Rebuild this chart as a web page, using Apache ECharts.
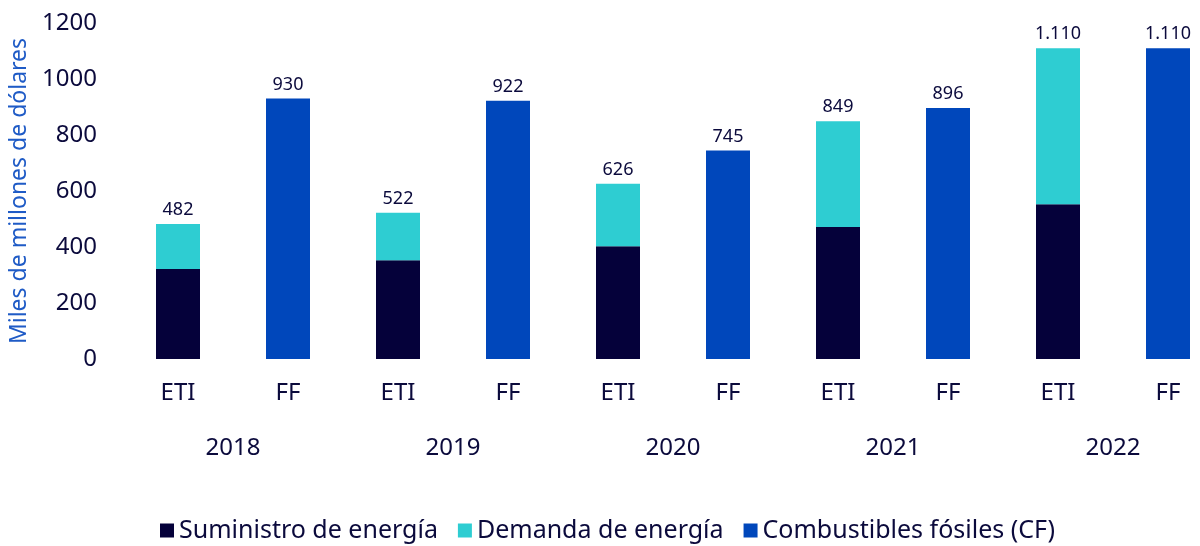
<!DOCTYPE html>
<html>
<head>
<meta charset="utf-8">
<script src="https://cdn.jsdelivr.net/npm/echarts@6/dist/echarts.min.js"></script>
<style>
  html, body { margin: 0; padding: 0; background: #fff; }
  #chart { width: 1200px; height: 546px; }
</style>
</head>
<body>
<div id="chart"></div>
<script>
  // bar categories (two per year) and the years below them
  const categories = ['ETI', 'FF', 'ETI', 'FF', 'ETI', 'FF', 'ETI', 'FF', 'ETI', 'FF']
  const years = ['2018', '2019', '2020', '2021', '2022']

  // ETI split and totals, FF values (miles de millones de dólares)
  const suministro = [321, 353, 403, 471, 553]
  const demanda = [161, 169, 223, 378, 557]
  const etiTotal = [482, 522, 626, 849, 1110]
  const combustibles = [930, 922, 745, 896, 1110]

  const yTicks = { min: 0, max: 1200, interval: 200 }

  const textColor = '#0b0a3c'
  const fontFamily = '"Noto Sans", sans-serif'

  const fmt = (v) => String(v).replace(/\B(?=(\d{3})+(?!\d))/g, '.')

  // spread year values onto the ETI / FF slots
  const onEti = (arr) => categories.map((c, i) => (c === 'ETI' ? arr[i / 2] : '-'))
  const onFf = (arr) => categories.map((c, i) => (c === 'FF' ? arr[(i - 1) / 2] : '-'))

  const chart = echarts.init(document.getElementById('chart'), null, { renderer: 'canvas' })

  const option = {
    animation: false,
    textStyle: { fontFamily: fontFamily },
    grid: {
      top: 23,
      left: 123,
      right: -23,
      bottom: 187,
      containLabel: false,
      outerBoundsMode: 'none'
    },
    legend: {
      left: 155,
      top: 513,
      itemWidth: 14,
      itemHeight: 14,
      itemGap: 20,
      icon: 'rect',
      textStyle: { color: textColor, fontSize: 25, fontFamily: fontFamily },
      data: ['Suministro de energía', 'Demanda de energía', 'Combustibles fósiles (CF)']
    },
    xAxis: [
      {
        type: 'category',
        data: categories,
        axisLine: { show: false },
        axisTick: { show: false },
        axisLabel: { color: textColor, fontSize: 24, margin: 22 }
      },
      {
        type: 'category',
        data: years,
        position: 'bottom',
        offset: 55,
        axisLine: { show: false },
        axisTick: { show: false },
        axisLabel: { color: textColor, fontSize: 24, margin: 22 }
      }
    ],
    yAxis: {
      type: 'value',
      min: yTicks.min,
      max: yTicks.max,
      interval: yTicks.interval,
      name: 'Miles de millones de dólares',
      nameLocation: 'middle',
      nameGap: 89,
      nameTextStyle: { color: '#1f5bc6', fontSize: 23 },
      axisLine: { show: false },
      axisTick: { show: false },
      splitLine: { show: false },
      axisLabel: { color: textColor, fontSize: 24, margin: 26, formatter: (v) => String(v) }
    },
    series: [
      {
        name: 'Suministro de energía',
        type: 'bar',
        stack: 'total',
        barWidth: 44,
        data: onEti(suministro),
        itemStyle: { color: '#05013a' }
      },
      {
        name: 'Demanda de energía',
        type: 'bar',
        stack: 'total',
        barWidth: 44,
        data: onEti(demanda),
        itemStyle: { color: '#2ecdd2' },
        label: {
          show: true,
          position: 'top',
          distance: 5,
          color: textColor,
          fontSize: 18,
          formatter: (p) => fmt(etiTotal[p.dataIndex / 2])
        }
      },
      {
        name: 'Combustibles fósiles (CF)',
        type: 'bar',
        stack: 'total',
        barWidth: 44,
        data: onFf(combustibles),
        itemStyle: { color: '#0047bb' },
        label: {
          show: true,
          position: 'top',
          distance: 5,
          color: textColor,
          fontSize: 18,
          formatter: (p) => fmt(p.value)
        }
      }
    ]
  }

  chart.setOption(option)
</script>
</body>
</html>
